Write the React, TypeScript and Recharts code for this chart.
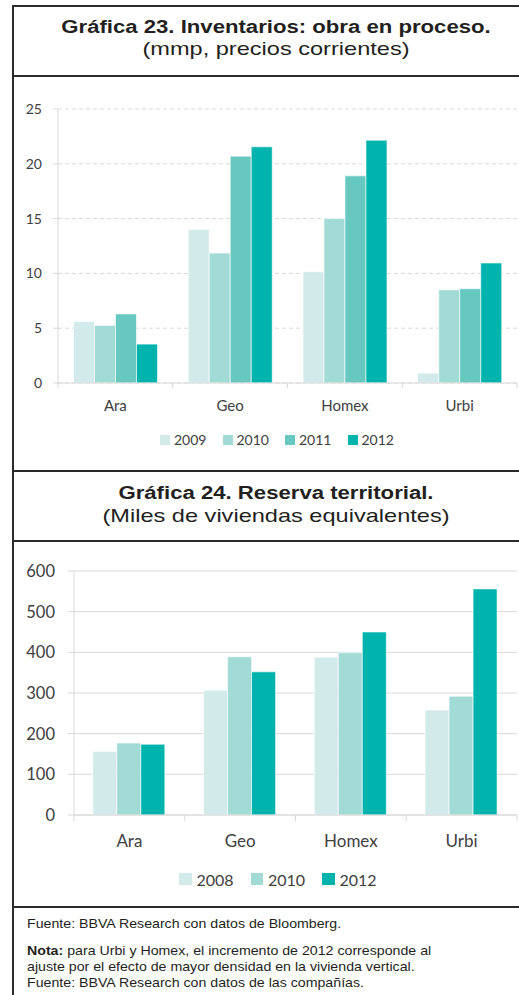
import React from "react";
import { BarChart, Bar, XAxis, YAxis, CartesianGrid } from "recharts";

const companies = ["Ara", "Geo", "Homex", "Urbi"];

const inv2009 = [5.6, 14.0, 10.15, 0.9];
const inv2010 = [5.25, 11.85, 15.0, 8.5];
const inv2011 = [6.3, 20.7, 18.9, 8.6];
const inv2012 = [3.55, 21.55, 22.15, 10.95];
const invYears = ["2009", "2010", "2011", "2012"];
const invTicks = [0, 5, 10, 15, 20, 25];

const res2008 = [156, 307, 388, 258];
const res2010 = [177, 389, 399, 292];
const res2012 = [174, 352, 450, 556];
const resYears = ["2008", "2010", "2012"];
const resTicks = [0, 100, 200, 300, 400, 500, 600];

const invColors = ["#d2ebea", "#a2dbd6", "#67c8c0", "#00b3ad"];
const resColors = ["#d2ebea", "#a2dbd6", "#00b3ad"];

const invSeries = [inv2009, inv2010, inv2011, inv2012];
const resSeries = [res2008, res2010, res2012];

const invData = companies.map((c, i) => {
  const row: any = { cat: c };
  invYears.forEach((y, k) => (row[y] = invSeries[k][i]));
  return row;
});
const resData = companies.map((c, i) => {
  const row: any = { cat: c };
  resYears.forEach((y, k) => (row[y] = resSeries[k][i]));
  return row;
});

const FONT = "Lato, 'Open Sans', sans-serif";
const ARIAL = "'Liberation Sans', Arial, sans-serif";
const AX = "#d9d9d9";
const TXT = "#404040";
const LINE = "#2b2b2b";
const TITLE = "#231f20";

const makeTick = (band: number, tickLen: number, labelDy: number, fontSize: number, count: number) =>
  (props: any) => {
    const { x, y, payload, index } = props;
    const half = payload && typeof payload.offset === "number" && payload.offset > 0 ? payload.offset : band / 2;
    return (
      <g>
        <line x1={x - half} x2={x - half} y1={y} y2={y + tickLen} stroke={AX} />
        {index === count - 1 ? (
          <line x1={x + half} x2={x + half} y1={y} y2={y + tickLen} stroke={AX} />
        ) : null}
        <text x={x} y={y + labelDy} textAnchor="middle" fontSize={fontSize} fontFamily={FONT} fill={TXT}>
          {payload.value}
        </text>
      </g>
    );
  };

const hLine = (top: number) => (
  <div style={{ position: "absolute", left: 12, top, width: 507, height: 2, background: LINE }} />
);

const TitleLine = ({ top, text, bold, size, sx }: any) => (
  <div
    style={{
      position: "absolute",
      left: 13,
      width: 526,
      top,
      textAlign: "center",
      fontFamily: ARIAL,
      color: TITLE,
      fontSize: size,
      lineHeight: "19px",
      fontWeight: bold ? "bold" : "normal",
      whiteSpace: "nowrap",
      transform: `scaleX(${sx})`,
      transformOrigin: "50% 50%",
    }}
  >
    {text}
  </div>
);

export default function App() {
  return (
    <div
      style={{
        position: "absolute",
        left: 0,
        top: 0,
        width: 519,
        height: 995,
        background: "#fff",
        overflow: "hidden",
      }}
    >
      <div style={{ position: "absolute", left: 12, top: 5, width: 2, height: 990, background: LINE }} />
      {hLine(5)}
      {hLine(75)}
      {hLine(470)}
      {hLine(540)}
      {hLine(906)}

      <TitleLine top={18} text="Gráfica 23. Inventarios: obra en proceso." bold size={18} sx={1.23} />
      <TitleLine top={39} text="(mmp, precios corrientes)" size={19} sx={1.24} />

      <div style={{ position: "absolute", left: 0, top: 80 }}>
        <BarChart
          width={519}
          height={333}
          data={invData}
          margin={{ top: 29, right: 2, left: 0, bottom: 0 }}
          barCategoryGap="13.5%"
          barGap={0}
        >
          <CartesianGrid vertical={false} stroke={AX} strokeDasharray="4 3" />
          <YAxis
            width={58}
            domain={[0, 25]}
            ticks={invTicks}
            interval={0}
            tickSize={5}
            tickMargin={11}
            axisLine={{ stroke: AX }}
            tickLine={{ stroke: AX }}
            tick={{ fontSize: 14, fill: TXT, fontFamily: FONT }}
          />
          <XAxis
            dataKey="cat"
            height={30}
            axisLine={{ stroke: AX }}
            tickLine={false}
            tickSize={0}
            tickMargin={0}
            interval={0}
            tick={makeTick(114.75, 5, 28, 15, companies.length)}
          />
          {invYears.map((y, k) => (
            <Bar key={y} dataKey={y} fill={invColors[k]} stroke="#ffffff" strokeWidth={0.6} isAnimationActive={false} />
          ))}
        </BarChart>
      </div>

      {invYears.map((y, k) => (
        <div
          key={y}
          style={{
            position: "absolute",
            left: 160 + k * 62.5,
            top: 431,
            height: 17,
            display: "flex",
            alignItems: "center",
            fontFamily: FONT,
            fontSize: 14,
            color: TXT,
          }}
        >
          <span style={{ display: "inline-block", width: 10, height: 10, background: invColors[k], marginRight: 4 }} />
          {y}
        </div>
      ))}

      <TitleLine top={484} text="Gráfica 24. Reserva territorial." bold size={18} sx={1.23} />
      <TitleLine top={506} text="(Miles de viviendas equivalentes)" size={19} sx={1.24} />

      <div style={{ position: "absolute", left: 0, top: 545 }}>
        <BarChart
          width={519}
          height={305}
          data={resData}
          margin={{ top: 26, right: 2, left: 0, bottom: 0 }}
          barCategoryGap="17%"
          barGap={0}
        >
          <CartesianGrid vertical={false} stroke={AX} />
          <YAxis
            width={74}
            domain={[0, 600]}
            ticks={resTicks}
            interval={0}
            tickSize={6}
            tickMargin={13}
            axisLine={{ stroke: AX }}
            tickLine={{ stroke: AX }}
            tick={{ fontSize: 16.5, fill: TXT, fontFamily: FONT }}
          />
          <XAxis
            dataKey="cat"
            height={35}
            axisLine={{ stroke: AX }}
            tickLine={false}
            tickSize={0}
            tickMargin={0}
            interval={0}
            tick={makeTick(110.75, 6, 32, 17, companies.length)}
          />
          {resYears.map((y, k) => (
            <Bar key={y} dataKey={y} fill={resColors[k]} stroke="#ffffff" strokeWidth={0.6} isAnimationActive={false} />
          ))}
        </BarChart>
      </div>

      {resYears.map((y, k) => (
        <div
          key={y}
          style={{
            position: "absolute",
            left: 179 + k * 71.5,
            top: 869,
            height: 20,
            display: "flex",
            alignItems: "center",
            fontFamily: FONT,
            fontSize: 16,
            color: TXT,
          }}
        >
          <span style={{ display: "inline-block", width: 12.5, height: 12.5, background: resColors[k], marginRight: 5 }} />
          {y}
        </div>
      ))}

      <div
        style={{
          position: "absolute",
          left: 27,
          top: 916,
          fontFamily: ARIAL,
          fontSize: 13.5,
          lineHeight: "16px",
          color: TITLE,
          whiteSpace: "nowrap",
          transform: "scaleX(1.05)",
          transformOrigin: "0 0",
        }}
      >
        <div>Fuente: BBVA Research con datos de Bloomberg.</div>
        <div style={{ marginTop: 11 }}>
          <b>Nota:</b> para Urbi y Homex, el incremento de 2012 corresponde al
        </div>
        <div>ajuste por el efecto de mayor densidad en la vivienda vertical.</div>
        <div>Fuente: BBVA Research con datos de las compañías.</div>
      </div>
    </div>
  );
}
